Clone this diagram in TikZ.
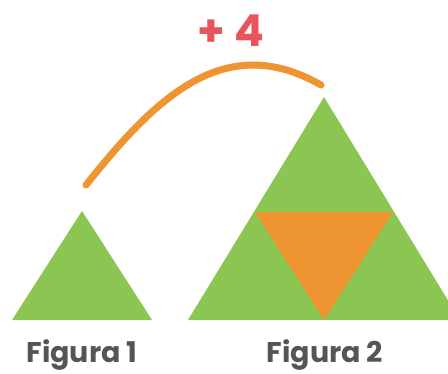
\documentclass[tikz,border=0pt]{standalone}
\usepackage{fontspec}
\setmainfont{Poppins}
\usepackage{xcolor}
\usetikzlibrary{positioning,calc}
\definecolor{leaf}{HTML}{8BC653}
\definecolor{peel}{HTML}{EE9430}
\definecolor{plus}{HTML}{E9545A}
\definecolor{ink}{HTML}{555555}

\begin{document}
\begin{tikzpicture}[x=1pt, y=-1pt,
  tri/.style={fill=leaf, draw=none},
  hole/.style={fill=peel, draw=none},
  jump/.style={draw=peel, line width=7pt, line cap=round},
  lbl/.style={font=\bfseries\fontsize{28.5}{32}\selectfont, text=ink, inner sep=0pt},
  gain/.style={font=\bfseries\fontsize{44}{48}\selectfont, text=plus, inner sep=0pt}]
\useasboundingbox (0,0) rectangle (448,373);
\coordinate (s1) at (82,211);
\coordinate (s2) at (324,97);
\fill[tri] (s1) -- (12,320) -- (152,320) -- cycle;
\begin{scope}
\clip (0,0) rectangle (448,373);
\fill[tri] (s2) -- (188,320) -- (460,320) -- cycle;
\end{scope}
\fill[hole] (255,212) -- (393,212) -- (324,320) -- cycle;
\coordinate (a) at ($(s1)+(4,-26)$);
\coordinate (b) at ($(s2)+(-3,-12)$);
\draw[jump] (a) .. controls (156,97) and (225,30) .. (b);
\node[gain] (plus) at (231,31) {+ 4};
\node[lbl] (f1) at (82,355) {Figura 1};
\node[lbl] (f2) at (325,355) {Figura 2};
\end{tikzpicture}
\end{document}
